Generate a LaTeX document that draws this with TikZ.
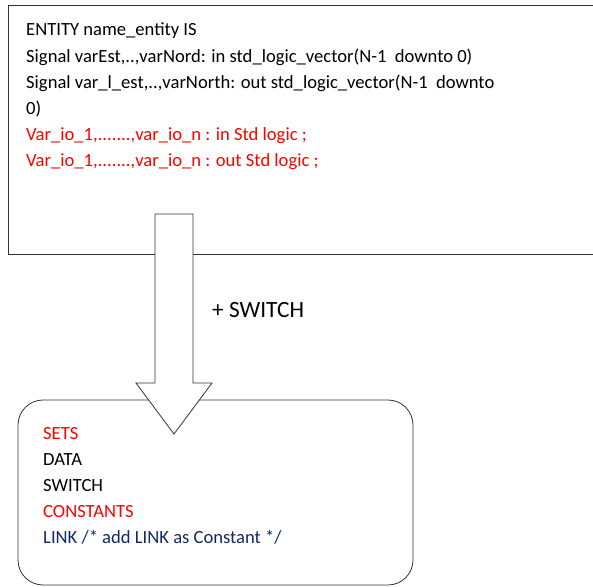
\documentclass[tikz,border=0pt]{standalone}
\usepackage{fontspec}
\setmainfont{Carlito}
\definecolor{codered}{RGB}{255,0,0}
\definecolor{codeblue}{RGB}{20,40,100}
\begin{document}
\begin{tikzpicture}[x=1pt,y=-1pt,
  line/.style={anchor=base west,inner sep=0pt,font=\fontsize{18.6}{22}\selectfont},
  redline/.style={line,text=codered},
  blueline/.style={line,text=codeblue},
  frame/.style={draw=black!80,line width=0.8pt}]
\clip (0,0) rectangle (593,586);
\fill[white] (0,0) rectangle (593,586);
% top box
\draw[frame] (8,5) rectangle (610,254);
\node[line] (t1) at (26,36) {ENTITY name\_entity IS};
\node[line] (t2) at (26,62) {Signal varEst,..,varNord: in std\_logic\_vector(N-1\ \ downto 0)};
\node[line] (t3) at (26,88) {Signal var\_l\_est,..,varNorth: out std\_logic\_vector(N-1\ \ downto};
\node[line] (t4) at (26,114) {0)};
\node[redline] (t5) at (26,140) {Var\_io\_1,.......,var\_io\_n : in Std logic ;};
\node[redline] (t6) at (26,166) {Var\_io\_1,.......,var\_io\_n : out Std logic ;};
% bottom box
\draw[frame,rounded corners=25pt] (18,400) rectangle (413,585);
\node[redline] (b1) at (43,439) {SETS};
\node[line] (b2) at (43,465) {DATA};
\node[line] (b3) at (43,491) {SWITCH};
\node[redline] (b4) at (43,517) {CONSTANTS};
\node[blueline] (b5) at (43,543) {LINK /* add LINK as Constant */};
% block arrow
\draw[frame,fill=white,line join=miter] (155,214) -- (193,214) -- (193,383) -- (212,383)
  -- (174,434) -- (136,383) -- (155,383) -- cycle;
\node[anchor=base west,inner sep=0pt,font=\fontsize{23.3}{28}\selectfont] (sw) at (212,317) {+ SWITCH};
\end{tikzpicture}
\end{document}
